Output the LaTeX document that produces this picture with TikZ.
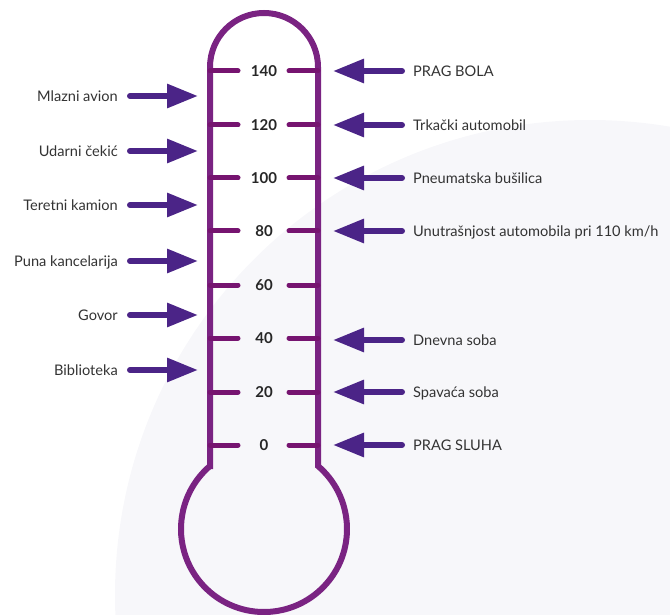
\documentclass[tikz,border=0pt]{standalone}
\usepackage{fontspec}
\setmainfont{Lato}
\usetikzlibrary{arrows.meta}
\definecolor{bgc}{HTML}{F7F7FA}
\definecolor{thermo}{HTML}{7A2382}
\definecolor{tickc}{HTML}{761470}
\definecolor{arrc}{HTML}{4B2487}
\definecolor{txt}{HTML}{333333}
\tikzset{
  thermoline/.style={draw=thermo, line width=6pt, line join=miter},
  tickline/.style={draw=tickc, line width=5pt, line cap=round},
  arr/.style={draw=arrc, line width=6pt, line cap=round, -{Triangle[length=31pt,width=23pt]}, arrc},
  lab/.style={inner sep=0pt, text=txt, font=\fontsize{14.6}{17}\selectfont, text height=10.3pt, text depth=0pt},
  num/.style={inner sep=0pt, text=black!85, font=\fontsize{15}{17}\selectfont\bfseries, text height=10.6pt, text depth=0pt}
}
\begin{document}
\begin{tikzpicture}[x=1pt,y=-1pt]
\useasboundingbox (0,0) rectangle (670,615);
\begin{scope}
\clip (0,0) rectangle (670,615);
\fill[bgc] (590,595) circle[radius=475];
\end{scope}
% thermometer
\draw[thermoline] (210,466) -- (210,67) arc[start angle=180, end angle=360, radius=54]
  -- (318,466) arc[start angle=-49.4, end angle=229.4, radius=83] -- cycle;
% ticks and numbers
\foreach \v/\y in {140/71,120/125,100/178,80/231,60/285,40/338,20/392,0/445}{
  \coordinate (tl\v) at (210,\y);
  \coordinate (tr\v) at (318,\y);
  \draw[tickline] (tl\v) -- ++(28,0);
  \draw[tickline] (tr\v) -- ++(-29,0);
  \node[num] (n\v) at (264,\y) {\v};
}
% left labels
\foreach \i/\y/\t in {1/96/{Mlazni avion},2/151/{Udarni čekić},3/205/{Teretni kamion},4/261/{Puna kancelarija},5/315/{Govor},6/370/{Biblioteka}}{
  \node[lab, anchor=east] (l\i) at (118,\y) {\t};
  \coordinate (lt\i) at (198,\y);
  \draw[arr] ([xshift=12pt]l\i.east) -- (lt\i);
}
% right labels
\foreach \i/\y/\t in {1/71/{PRAG BOLA},2/125/{Trkački automobil},3/178/{Pneumatska bušilica},4/231/{Unutrašnjost automobila pri 110 km/h},5/340/{Dnevna soba},6/392/{Spavaća soba},7/445/{PRAG SLUHA}}{
  \node[lab, anchor=west] (r\i) at (413,\y) {\t};
  \coordinate (rt\i) at (333,\y);
  \draw[arr] ([xshift=-11pt]r\i.west) -- (rt\i);
}
\end{tikzpicture}
\end{document}
